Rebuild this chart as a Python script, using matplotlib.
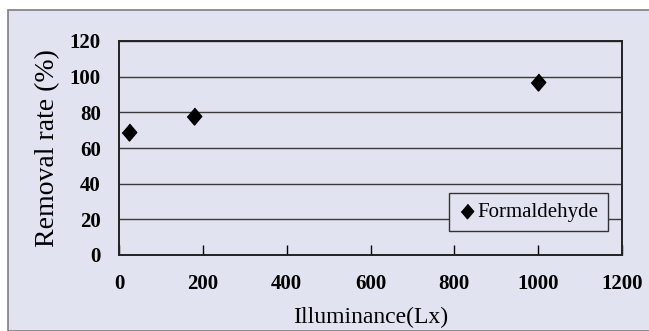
import matplotlib
matplotlib.use("Agg")
import matplotlib.pyplot as plt
from matplotlib.patches import Rectangle
from matplotlib.font_manager import FontProperties

# data
illuminance = [25, 180, 1000]
removal_rate = [69, 78, 97]
series_name = "Formaldehyde"

x_ticks = [0, 200, 400, 600, 800, 1000, 1200]
y_ticks = [0, 20, 40, 60, 80, 100, 120]

bg = "#e1e3f1"
serif = "Liberation Serif"
diamond = [(0, 1), (0.85, 0), (0, -1), (-0.85, 0)]

fig = plt.figure(figsize=(6.49, 3.31), dpi=100)
fig.patch.set_facecolor("white")

# outer chart frame, kept behind the axes
fig.patches.append(Rectangle((8 / 649, 0), 1.0, 1 - 10 / 331,
                             transform=fig.transFigure, facecolor=bg,
                             edgecolor="#7f7f7f", linewidth=1.2, zorder=-5))

ax = fig.add_axes([119 / 649, 76 / 331, 503 / 649, 214 / 331])
ax.set_facecolor(bg)

ax.scatter(illuminance, removal_rate, marker=diamond, s=150, color="black",
           label=series_name, zorder=3)

ax.set_xlim(0, 1200)
ax.set_ylim(0, 120)
ax.set_xticks(x_ticks)
ax.set_yticks(y_ticks)
ax.yaxis.grid(True, color="#3a3a3a", linewidth=1.0)
ax.set_axisbelow(True)

for s in ax.spines.values():
    s.set_linewidth(1.4)
    s.set_color("#222222")

ax.tick_params(axis="x", direction="in", length=7, width=1, pad=14)
ax.tick_params(axis="y", length=0, pad=13)
for lab in ax.get_xticklabels() + ax.get_yticklabels():
    lab.set_fontfamily(serif)
    lab.set_fontweight("bold")
    lab.set_fontsize(15)

ax.set_xlabel("Illuminance(Lx)", fontfamily=serif, fontsize=17, labelpad=9)
ax.set_ylabel("Removal rate (%)", fontfamily=serif, fontsize=20, labelpad=7)

leg = ax.legend(loc="lower right", bbox_to_anchor=(0.972, 0.112),
                prop=FontProperties(family=serif, size=15), frameon=True,
                fancybox=False, handletextpad=0.1, handlelength=0.8,
                borderpad=0.45, borderaxespad=0, markerscale=0.85)
leg.get_frame().set_facecolor(bg)
leg.get_frame().set_edgecolor("#333333")
leg.get_frame().set_alpha(1)
leg.get_frame().set_linewidth(1.0)

fig.savefig("out.png", dpi=100)
